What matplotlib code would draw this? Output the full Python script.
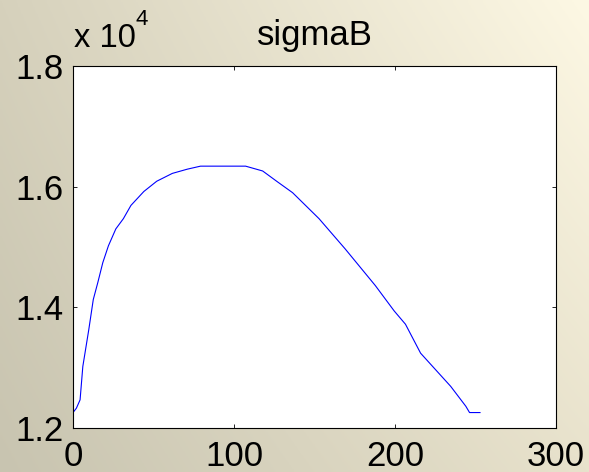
import numpy as np
import matplotlib
matplotlib.use("Agg")
import matplotlib.pyplot as plt

# Data (x: step index, y: sigmaB)
x_vals = [0, 2.1, 4.4, 6.1, 9.8, 12.6, 15.4, 18.5, 22, 26.6, 31.3, 36, 44, 52, 61.7,
          71, 79.2, 107.2, 117.8, 127, 136.4, 152.8, 169, 187.8, 199.5, 206.5,
          215.9, 234.6, 244, 246.3, 252.8]
y_vals = [12256, 12328, 12467, 13020, 13630, 14130, 14410, 14740, 15020, 15300,
          15470, 15690, 15920, 16090, 16220, 16290, 16340, 16340, 16260, 16080,
          15900, 15470, 14970, 14360, 13940, 13720, 13240, 12690, 12360, 12256, 12256]
x_ticks = [0, 100, 200, 300]
y_ticks = [1.2, 1.4, 1.6, 1.8]
title = "sigmaB"

plt.rcParams['font.family'] = ['Liberation Sans', 'DejaVu Sans']
fig = plt.figure(figsize=(5.89, 4.72), dpi=100)

# gradient background
bg = fig.add_axes([0, 0, 1, 1], zorder=-10)
tl = np.array([214, 209, 188]) / 255
tr = np.array([253, 248, 228]) / 255
bl = np.array([200, 196, 176]) / 255
br = np.array([232, 226, 204]) / 255
u = np.linspace(0, 1, 200)[None, :, None]
v = np.linspace(0, 1, 200)[:, None, None]
img = (1 - v) * ((1 - u) * tl + u * tr) + v * ((1 - u) * bl + u * br)
bg.imshow(img, aspect='auto', extent=[0, 1, 0, 1])
bg.axis('off')

W, H = 589, 472
ax = fig.add_axes([73 / W, 1 - 428 / H, (556 - 73) / W, (428 - 66) / H])
ax.set_facecolor('white')
ax.plot(x_vals, np.array(y_vals) / 1e4, color='#0000ff', linewidth=0.8)
ax.set_xlim(0, 300)
ax.set_ylim(1.2, 1.8)
ax.set_xticks(x_ticks)
ax.set_yticks(y_ticks)
ax.set_xticklabels([str(t) for t in x_ticks])
ax.set_yticklabels([f"{t:.1f}" for t in y_ticks])
ax.tick_params(direction='in', top=True, right=True, length=3, width=0.6,
               labelsize=25, colors='black')
ax.tick_params(axis='y', pad=7)
ax.tick_params(axis='x', pad=9)
for s in ax.spines.values():
    s.set_linewidth(0.8)
ax.set_title(title, fontsize=25, pad=15)
fig.text(74 / W, 1 - 47 / H, "x 10", fontsize=23.5, va='baseline', ha='left')
fig.text(136 / W, 1 - 25 / H, "4", fontsize=16, va='baseline', ha='left')

fig.savefig("out.png", dpi=100)
